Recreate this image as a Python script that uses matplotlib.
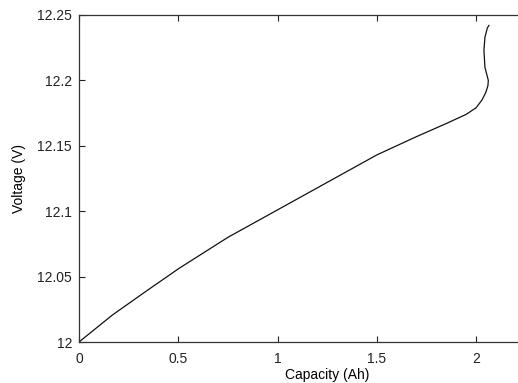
import matplotlib
matplotlib.use("Agg")
import matplotlib.pyplot as plt

# discharge curve
capacity = [0.0, 0.168, 0.335, 0.504, 0.75, 1.0, 1.25, 1.5, 1.7,
            1.85, 1.95, 2.0, 2.03, 2.05, 2.06, 2.062, 2.045, 2.040, 2.045,
            2.057, 2.065]
voltage = [12.0, 12.0206, 12.0385, 12.0563, 12.080, 12.101, 12.122,
           12.143, 12.157, 12.167, 12.174, 12.179, 12.185, 12.191, 12.196,
           12.200, 12.210, 12.223, 12.233, 12.240, 12.242]

xticks = [0, 0.5, 1, 1.5, 2]
xticklabels = ["0", "0.5", "1", "1.5", "2"]
yticks = [12, 12.05, 12.1, 12.15, 12.2, 12.25]
yticklabels = ["12", "12.05", "12.1", "12.15", "12.2", "12.25"]

plt.rcParams["font.family"] = ["Liberation Sans", "DejaVu Sans"]

fig = plt.figure(figsize=(5.18, 3.83), dpi=100)
W, H = 518, 383
# axes: x=0 at px 79, 198.5 px per unit; y 12..12.25 from px 342 to 15
x0, ppu = 79, 198.5
xmax = 2.5
ax = fig.add_axes([x0 / W, (H - 342) / H, xmax * ppu / W, (342 - 15) / H])

ax.plot(capacity, voltage, color="#111111", linewidth=0.9)

ax.set_xlim(0, xmax)
ax.set_ylim(12, 12.25)
ax.set_xticks(xticks)
ax.set_xticklabels(xticklabels)
ax.set_yticks(yticks)
ax.set_yticklabels(yticklabels)
ax.tick_params(direction="in", length=4, width=0.8, labelsize=10,
               top=True, right=False, colors="#222222")
ax.tick_params(axis="x", pad=7)
ax.tick_params(axis="y", pad=5)
for s in ax.spines.values():
    s.set_color("#333333")
    s.set_linewidth(0.9)

ax.set_xlabel("Capacity (Ah)", fontsize=10, labelpad=2)
ax.set_ylabel("Voltage (V)", fontsize=10, labelpad=8)

fig.savefig("out.png", dpi=100)
